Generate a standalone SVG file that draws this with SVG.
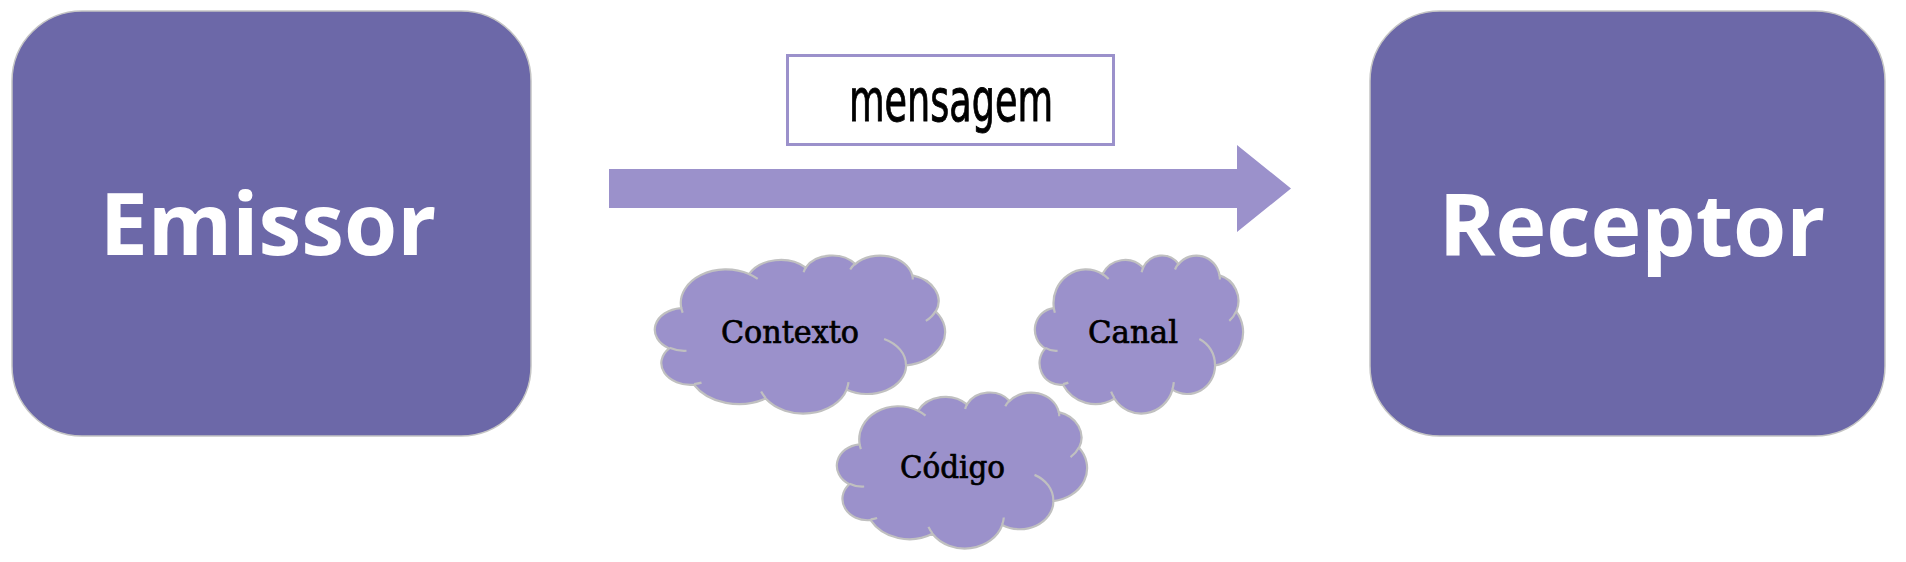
<svg xmlns="http://www.w3.org/2000/svg" xmlns:xlink="http://www.w3.org/1999/xlink" width="1906" height="562" viewBox="0 0 1906 562">
<style>
.box{fill:#6c68a8;stroke:#c4c4c4;stroke-width:1.5}
.big{font-family:"Open Sans","Noto Sans",sans-serif;font-weight:700;font-size:86px;fill:#ffffff;text-anchor:middle}
.cloudFill{fill:#9b91cb;stroke:#c0c0c0;stroke-width:2.2;vector-effect:non-scaling-stroke}
.cloudLine{fill:none;stroke:#c0c0c0;stroke-width:2.2;vector-effect:non-scaling-stroke}
.ctext{font-family:"DejaVu Serif","Liberation Serif",serif;font-size:31px;fill:#000000;stroke:#000000;stroke-width:0.7;text-anchor:middle}
.msg{font-family:"Liberation Sans Narrow","DejaVu Sans Condensed","Liberation Sans",sans-serif;font-size:58px;fill:#000000;stroke:#000000;stroke-width:0.9;text-anchor:middle}
.arrow{fill:#9b91cb}
</style>
<defs>
<g id="cloud">
<path class="cloudFill" d="M39 143.7 A67.53 91.9 0 0 1 140.06 52.03 A53.33 72.67 0 0 1 224.56 34.34 A43.65 59.45 0 0 1 298.33 24.82 A48.57 65.95 0 0 1 383.18 55.77 A53.33 72.73 0 0 1 418.19 154.61 A67.75 92.2 0 0 1 374.05 302.05 A57.85 78.67 0 0 1 285.57 368.15 A67.52 92.15 0 0 1 164.83 392.67 A77.2 105.43 0 0 1 58.05 354.72 A43.6 59.18 0 0 1 21.15 255.48 A43.45 59.45 0 0 1 38.65 145.05 Z"/>
<path class="cloudLine" d="M46.93 261.77 A43.45 59.45 0 0 1 21.59 253.8 M69.28 348.99 A43.6 59.18 0 0 1 58.19 352.81 M164.78 390.9 A67.52 92.15 0 0 1 158.09 373.48 M288.27 347.51 A67.52 92.15 0 0 1 285.6 366.61 M341.29 229.54 A57.85 78.67 0 0 1 373.8 300.89 M417.98 153.54 A53.33 72.73 0 0 1 403.49 180.32 M383.24 54.26 A48.57 65.95 0 0 1 384 66.9 M290.78 39.52 A48.57 65.95 0 0 1 298.2 23.4 M221.41 47.2 A43.65 59.45 0 0 1 225 33.3 M140 51.92 A67.53 91.9 0 0 1 152.98 65.39 M41.27 157.89 A67.53 91.9 0 0 1 39 143.7"/>
</g>
</defs>
<g id="connectors">
<polygon class="arrow" points="609,169 1237,169 1237,145 1291,188.5 1237,232 1237,208 609,208"/>
</g>
<g id="emissor">
<rect class="box" x="12" y="11" width="519" height="425" rx="70" ry="70"/>
<text class="big" x="268" y="255">Emissor</text>
</g>
<g id="receptor">
<rect class="box" x="1370" y="11" width="515" height="425" rx="70" ry="70"/>
<text class="big" x="1632" y="256">Receptor</text>
</g>
<g id="mensagem">
<rect x="787.5" y="55.5" width="326" height="89" fill="#ffffff" stroke="#9b91cb" stroke-width="3"/>
<text class="msg" x="951" y="121" textLength="204" lengthAdjust="spacingAndGlyphs">mensagem</text>
</g>
<g id="contexto">
<use xlink:href="#cloud" href="#cloud" transform="translate(655,255) scale(0.6713,0.3657)"/>
<text class="ctext" x="790" y="343" textLength="138" lengthAdjust="spacingAndGlyphs">Contexto</text>
</g>
<g id="canal">
<use xlink:href="#cloud" href="#cloud" transform="translate(1035,255) scale(0.4815,0.3657)"/>
<text class="ctext" x="1133" y="343" textLength="90" lengthAdjust="spacingAndGlyphs">Canal</text>
</g>
<g id="codigo">
<use xlink:href="#cloud" href="#cloud" transform="translate(837,392) scale(0.5787,0.3611)"/>
<text class="ctext" x="952.5" y="478" textLength="105" lengthAdjust="spacingAndGlyphs">Código</text>
</g>
</svg>
